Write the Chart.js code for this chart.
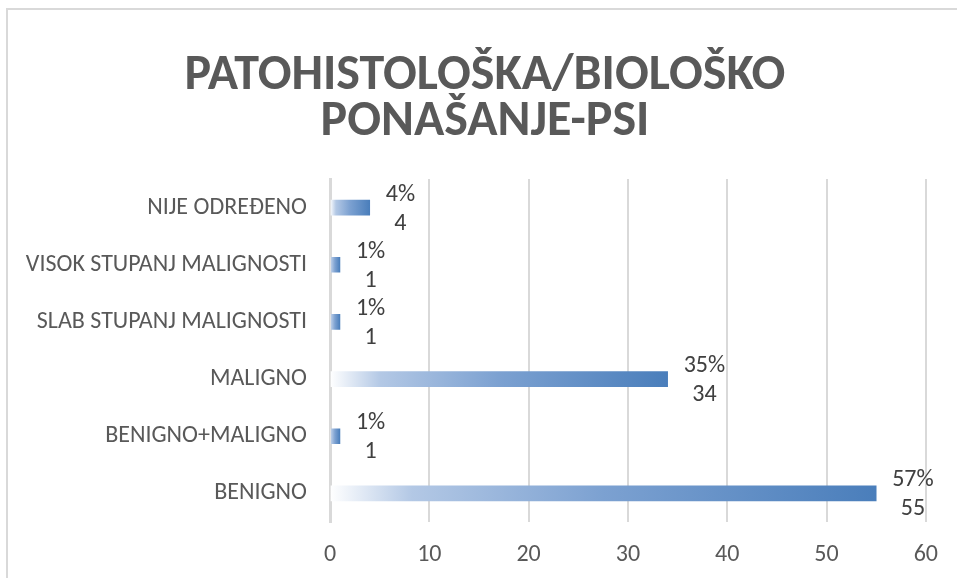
<!DOCTYPE html>
<html>
<head>
<meta charset="utf-8">
<script src="https://cdn.jsdelivr.net/npm/chart.js@4.4.1/dist/chart.umd.min.js"></script>
<style>
  html, body { margin: 0; padding: 0; background: #fff; }
  #wrap { position: relative; width: 957px; height: 578px; overflow: hidden; }
  #frame { position: absolute; left: 6px; top: 8px; width: 1000px; height: 1000px; border: 2px solid #d9d9d9; box-sizing: border-box; }
  canvas { position: absolute; left: 0; top: 0; }
</style>
</head>
<body>
<div id="wrap">
  <div id="frame"></div>
  <canvas id="chart" width="957" height="578"></canvas>
</div>
<script>
// categories top to bottom, as shown in the picture
const categories = [
  'NIJE ODREĐENO',
  'VISOK STUPANJ MALIGNOSTI',
  'SLAB STUPANJ MALIGNOSTI',
  'MALIGNO',
  'BENIGNO+MALIGNO',
  'BENIGNO'
];
const counts = [4, 1, 1, 34, 1, 55];
const percents = ['4%', '1%', '1%', '35%', '1%', '57%'];
const titleLines = ['PATOHISTOLOŠKA/BIOLOŠKO', 'PONAŠANJE-PSI'];

const FONT = "Carlito, Calibri, 'Open Sans', sans-serif";

// each bar fades from white at the axis to blue at its end
function barGradient(context) {
  const chart = context.chart;
  const x = chart.scales.x;
  if (!chart.chartArea || !x) return '#4f81bd';
  const v = context.raw;
  const x0 = x.getPixelForValue(0);
  const x1 = x.getPixelForValue(v);
  if (x1 - x0 < 2) return '#4f81bd';
  const g = chart.ctx.createLinearGradient(x0, 0, x1, 0);
  g.addColorStop(0, '#ffffff');
  g.addColorStop(0.15, '#b3c8e5');
  g.addColorStop(0.5, '#7ca1d1');
  g.addColorStop(1, '#4a7ebb');
  return g;
}

// title is drawn by hand so it can sit off-centre like the original
const titleBlock = {
  id: 'titleBlock',
  afterDraw(chart) {
    const ctx = chart.ctx;
    ctx.save();
    ctx.font = 'bold 50px ' + FONT;
    ctx.fillStyle = '#595959';
    ctx.textAlign = 'center';
    ctx.textBaseline = 'middle';
    ctx.fillText(titleLines[0], 485, 76);
    ctx.fillText(titleLines[1], 485, 122);
    ctx.restore();
  }
};

// two-line labels (percent over count), box starts a bit right of the bar end
const barLabels = {
  id: 'barLabels',
  afterDatasetsDraw(chart) {
    const ctx = chart.ctx;
    const meta = chart.getDatasetMeta(0);
    ctx.save();
    ctx.font = '24px ' + FONT;
    ctx.fillStyle = '#404040';
    ctx.textAlign = 'center';
    ctx.textBaseline = 'middle';
    meta.data.forEach((bar, i) => {
      const a = percents[i], b = String(counts[i]);
      const w = Math.max(ctx.measureText(a).width, ctx.measureText(b).width);
      const cx = bar.x + 16 + w / 2;
      ctx.fillText(a, cx, bar.y - 13);
      ctx.fillText(b, cx, bar.y + 16);
    });
    ctx.restore();
  }
};

new Chart(document.getElementById('chart'), {
  type: 'bar',
  data: {
    labels: categories,
    datasets: [{
      data: counts,
      backgroundColor: barGradient,
      borderWidth: 0,
      barThickness: 15
    }]
  },
  options: {
    indexAxis: 'y',
    responsive: false,
    animation: false,
    layout: { padding: { left: 10, right: 30, top: 179, bottom: 0 } },
    plugins: {
      legend: { display: false },
      tooltip: { enabled: false },
      title: { display: false }
    },
    scales: {
      x: {
        min: 0,
        max: 60,
        ticks: {
          stepSize: 10,
          color: '#595959',
          font: { family: FONT, size: 24 },
          padding: 19
        },
        grid: { color: '#d9d9d9', lineWidth: 2, drawTicks: false },
        border: { display: false },
        afterFit(scale) { scale.height = 56; }
      },
      y: {
        ticks: {
          color: '#595959',
          font: { family: FONT, size: 24 },
          padding: 23
        },
        grid: { display: false, drawTicks: false },
        border: { display: true, color: '#d9d9d9', width: 3 },
        afterFit(scale) { scale.width = 320; }
      }
    }
  },
  plugins: [barLabels, titleBlock]
});
</script>
</body>
</html>
